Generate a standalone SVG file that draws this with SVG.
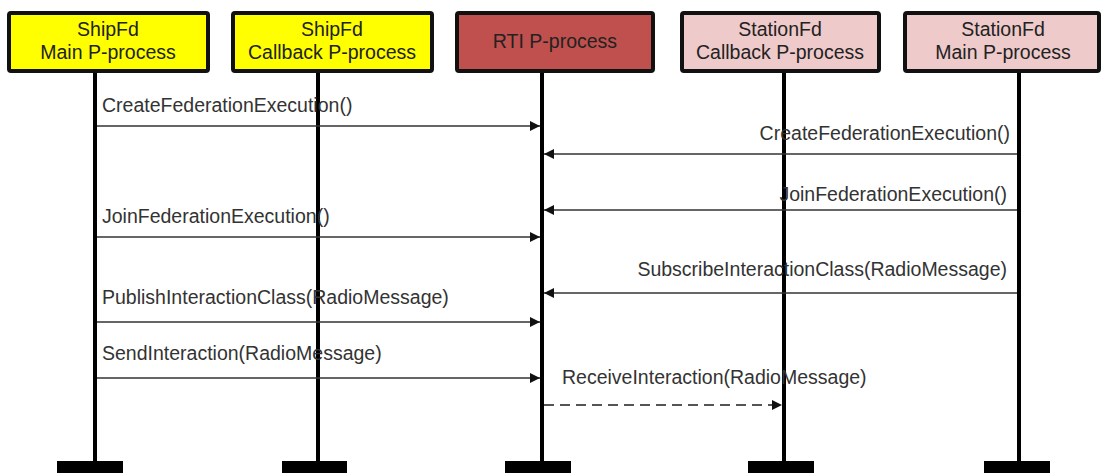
<svg xmlns="http://www.w3.org/2000/svg" width="1101" height="473" viewBox="0 0 1101 473">
  <style>
    .box { stroke: #111; stroke-width: 4; }
    .ship { fill: #ffff00; }
    .rti { fill: #c0504d; }
    .station { fill: #efcaca; }
    .title { font-family: "Liberation Sans", Arial, sans-serif; font-size: 19.5px; fill: #222; text-anchor: middle; }
    .life { stroke: #000; stroke-width: 4; }
    .foot { fill: #000; }
    .msg { stroke: #333; stroke-width: 1.6; fill: none; }
    .async { stroke: #555; stroke-width: 2; fill: none; stroke-dasharray: 10 6; }
    .label { font-family: "Liberation Sans", Arial, sans-serif; font-size: 19.5px; fill: #333; }
    .right { text-anchor: end; }
  </style>
  <defs>
    <marker id="head" viewBox="0 0 10 10" refX="10" refY="5" markerWidth="10" markerHeight="10" markerUnits="userSpaceOnUse" orient="auto">
      <path d="M0,0 L10,5 L0,10 Z" fill="#111"/>
    </marker>
  </defs>
  <rect width="1101" height="473" fill="#fff"/>

  <!-- participants -->
  <g id="ship-main">
    <line class="life" x1="95" y1="72" x2="95" y2="462"/>
    <rect class="foot" x="57" y="461" width="66" height="14"/>
    <rect class="box ship" x="9" y="13" width="199" height="58" rx="2"/>
    <text class="title" x="108" y="36">ShipFd</text>
    <text class="title" x="108" y="59">Main P-process</text>
  </g>
  <g id="ship-callback">
    <line class="life" x1="318" y1="72" x2="318" y2="462"/>
    <rect class="foot" x="282" y="461" width="65" height="14"/>
    <rect class="box ship" x="233" y="13" width="199" height="58" rx="2"/>
    <text class="title" x="332" y="36">ShipFd</text>
    <text class="title" x="332" y="59">Callback P-process</text>
  </g>
  <g id="rti">
    <line class="life" x1="542" y1="72" x2="542" y2="462"/>
    <rect class="foot" x="505" y="461" width="66" height="14"/>
    <rect class="box rti" x="457" y="13" width="196" height="58" rx="2"/>
    <text class="title" x="555" y="48">RTI P-process</text>
  </g>
  <g id="station-callback">
    <line class="life" x1="784" y1="72" x2="784" y2="462"/>
    <rect class="foot" x="748" y="461" width="66" height="14"/>
    <rect class="box station" x="682" y="13" width="197" height="58" rx="2"/>
    <text class="title" x="780" y="36">StationFd</text>
    <text class="title" x="780" y="59">Callback P-process</text>
  </g>
  <g id="station-main">
    <line class="life" x1="1019" y1="72" x2="1019" y2="462"/>
    <rect class="foot" x="984" y="461" width="66" height="14"/>
    <rect class="box station" x="905" y="13" width="194" height="58" rx="2"/>
    <text class="title" x="1003" y="36">StationFd</text>
    <text class="title" x="1003" y="59">Main P-process</text>
  </g>

  <!-- messages -->
  <g id="connectors">
    <line class="msg" x1="97" y1="126" x2="540" y2="126" marker-end="url(#head)"/>
    <line class="msg" x1="1017" y1="154" x2="544" y2="154" marker-end="url(#head)"/>
    <line class="msg" x1="1017" y1="210" x2="544" y2="210" marker-end="url(#head)"/>
    <line class="msg" x1="97" y1="237" x2="540" y2="237" marker-end="url(#head)"/>
    <line class="msg" x1="1017" y1="293" x2="544" y2="293" marker-end="url(#head)"/>
    <line class="msg" x1="97" y1="322" x2="540" y2="322" marker-end="url(#head)"/>
    <line class="msg" x1="97" y1="378" x2="540" y2="378" marker-end="url(#head)"/>
    <line class="async" x1="544" y1="405" x2="782" y2="405" marker-end="url(#head)"/>
  </g>

  <!-- message labels -->
  <g id="labels">
    <text class="label" x="102" y="112">CreateFederationExecution()</text>
    <text class="label right" x="1010" y="140">CreateFederationExecution()</text>
    <text class="label right" x="1007" y="201">JoinFederationExecution()</text>
    <text class="label" x="102" y="223">JoinFederationExecution()</text>
    <text class="label right" x="1007" y="276">SubscribeInteractionClass(RadioMessage)</text>
    <text class="label" x="102" y="304">PublishInteractionClass(RadioMessage)</text>
    <text class="label" x="102" y="360">SendInteraction(RadioMessage)</text>
    <text class="label" x="562" y="384">ReceiveInteraction(RadioMessage)</text>
  </g>
</svg>
